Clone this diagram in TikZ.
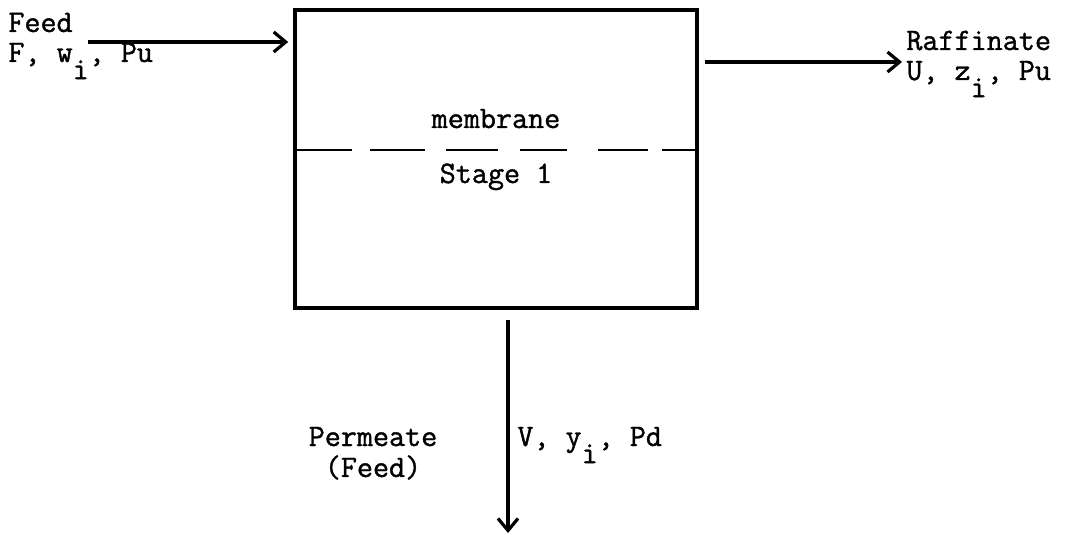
\documentclass[tikz,border=0pt]{standalone}
\usepackage{fontspec}
\newfontfamily\tw{Latin Modern Mono}[FakeBold=1.2]
\usetikzlibrary{arrows.meta}
\newcommand{\sbi}{\raisebox{-0.55em}{i}}
\begin{document}
\begin{tikzpicture}[x=0.5pt,y=-0.5pt,
  lbl/.style={font=\tw\fontsize{15.6}{18}\selectfont, inner sep=0pt},
  flow/.style={line width=1.6pt, -{Straight Barb[length=6pt,width=10pt,line width=1.6pt]}},
  wall/.style={line width=1.8pt},
  memb/.style={line width=1.4pt}]
\useasboundingbox (0,0) rectangle (1084,535);
% stage box
\node[draw, wall, minimum width=201pt, minimum height=149pt, inner sep=0pt] (stage) at (496,159) {};
% membrane dividing the stage
\coordinate (mL) at (stage.west |- 0,150);
\coordinate (mR) at (stage.east |- 0,150);
\draw[memb] (mL) -- (352,150);
\draw[memb] (370,150) -- (425,150);
\draw[memb] (446,150) -- (498,150);
\draw[memb] (520,150) -- (567,150);
\draw[memb] (598,150) -- (648,150);
\draw[memb] (662,150) -- (mR);
\node[lbl, anchor=base] (mtext) at (496,128) {membrane};
\node[lbl, anchor=base] (stext) at (496,183) {Stage 1};
% feed stream
\coordinate (fin) at (88,42);
\coordinate (fout) at (stage.west |- 0,42);
\draw[flow] (fin) -- ([xshift=-2.5pt]fout);
\node[lbl, anchor=base west] (feed) at (8,32) {Feed};
\node[lbl, anchor=base west] (feedv) at (8,62) {F, w\sbi, Pu};
% raffinate stream
\coordinate (rin) at ([xshift=3pt]stage.east |- 0,62);
\coordinate (rout) at (902,62);
\draw[flow] (rin) -- (rout);
\node[lbl, anchor=base west] (raff) at (906,50) {Raffinate};
\node[lbl, anchor=base west] (raffv) at (906,80) {U, z\sbi, Pu};
% permeate stream
\coordinate (pin) at ([yshift=-5pt]stage.south -| 508,0);
\coordinate (pout) at (508,533);
\draw[flow] (pin) -- (pout);
\node[lbl, anchor=base] (perm) at (373,446) {Permeate};
\node[lbl, anchor=base] (permf) at (373,477) {(Feed)};
\node[lbl, anchor=base west] (permv) at (517,446) {V, y\sbi, Pd};
\end{tikzpicture}
\end{document}
